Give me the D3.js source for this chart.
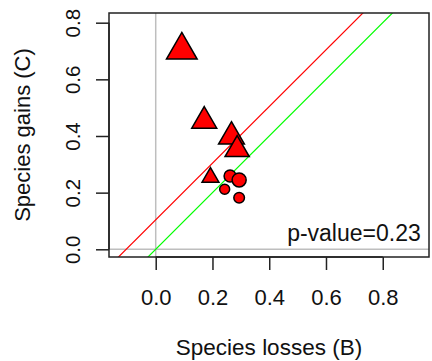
<!DOCTYPE html>
<html>
<head>
<meta charset="utf-8">
<script src="https://cdn.jsdelivr.net/npm/d3@7"></script>
<style>
  body { margin: 0; background: #fff; }
  svg { display: block; font-family: "Liberation Sans", Arial, sans-serif; }
</style>
</head>
<body>
<div id="chart"></div>
<script>
// values
const losses = [0.262, 0.294, 0.243, 0.294, 0.092, 0.171, 0.267, 0.287, 0.193];
const gains  = [0.259, 0.245, 0.212, 0.182, 0.703, 0.453, 0.398, 0.352, 0.254];
const shapes = ['circle', 'circle', 'circle', 'circle', 'triangle', 'triangle', 'triangle', 'triangle', 'triangle'];
const cexs   = [1.33, 1.56, 1.11, 1.18, 2.53, 2.06, 2.13, 2.0, 1.39];
const xTicks = [0, 0.2, 0.4, 0.6, 0.8];
const yTicks = [0, 0.2, 0.4, 0.6, 0.8];
const refLines = [
  { intercept: 0.104, slope: 1, color: '#ff0000' },
  { intercept: 0, slope: 1, color: '#00ff00' }
];
const pLabel = 'p-value=0.23';

const width = 432, height = 361;
const margin = { top: 13, right: 3, bottom: 104, left: 109 };

const svg = d3.select('#chart').append('svg')
  .attr('width', width)
  .attr('height', height);

const x = d3.scaleLinear().domain([-0.1646, 0.963]).range([margin.left, width - margin.right]);
const y = d3.scaleLinear().domain([-0.0272, 0.8342]).range([height - margin.bottom, margin.top]);

svg.append('defs').append('clipPath').attr('id', 'plot-clip')
  .append('rect')
  .attr('x', margin.left).attr('y', margin.top)
  .attr('width', width - margin.left - margin.right)
  .attr('height', height - margin.top - margin.bottom);

const plot = svg.append('g').attr('clip-path', 'url(#plot-clip)');

// grey zero lines
plot.append('line')
  .attr('x1', x(0)).attr('x2', x(0))
  .attr('y1', margin.top).attr('y2', height - margin.bottom)
  .attr('stroke', '#bebebe').attr('stroke-width', 1.5);
plot.append('line')
  .attr('x1', margin.left).attr('x2', width - margin.right)
  .attr('y1', y(0)).attr('y2', y(0))
  .attr('stroke', '#bebebe').attr('stroke-width', 1.5);

// reference lines
const [x0, x1] = x.domain();
plot.selectAll('.ref')
  .data(refLines)
  .join('line')
  .attr('class', 'ref')
  .attr('x1', x(x0)).attr('y1', d => y(d.intercept + d.slope * x0))
  .attr('x2', x(x1)).attr('y2', d => y(d.intercept + d.slope * x1))
  .attr('stroke', d => d.color)
  .attr('stroke-width', 1.2);

// points
const unit = 4.5;
const TRC0 = Math.sqrt(4 * Math.PI / (3 * Math.sqrt(3)));
const points = losses.map((v, i) => ({ x: v, y: gains[i], shape: shapes[i], cex: cexs[i] }));

plot.selectAll('.pt')
  .data(points)
  .join('path')
  .attr('class', 'pt')
  .attr('transform', d => `translate(${x(d.x)},${y(d.y)})`)
  .attr('d', d => {
    const s = unit * d.cex;
    if (d.shape === 'circle') {
      return d3.arc()({ innerRadius: 0, outerRadius: s, startAngle: 0, endAngle: 2 * Math.PI });
    }
    const r = TRC0 * s;
    const xc = r * Math.sqrt(3) / 2;
    return `M0,${-r}L${xc},${r / 2}L${-xc},${r / 2}Z`;
  })
  .attr('fill', '#ff0000')
  .attr('stroke', '#000')
  .attr('stroke-width', 1.5)
  .attr('stroke-linejoin', 'miter');

// p-value text
svg.append('text')
  .attr('x', x(0.934))
  .attr('y', y(0.028))
  .attr('text-anchor', 'end')
  .attr('font-size', 23)
  .attr('fill', '#111')
  .text(pLabel);

// box
svg.append('rect')
  .attr('x', margin.left).attr('y', margin.top)
  .attr('width', width - margin.left - margin.right)
  .attr('height', height - margin.top - margin.bottom)
  .attr('fill', 'none')
  .attr('stroke', '#222')
  .attr('stroke-width', 1.5);

// x axis
const xAxis = svg.append('g')
  .attr('transform', `translate(0,${height - margin.bottom})`)
  .call(d3.axisBottom(x).tickValues(xTicks).tickSize(13).tickPadding(19).tickFormat(d3.format('.1f')));
xAxis.select('.domain')
  .attr('d', `M${x(xTicks[0])},0H${x(xTicks[xTicks.length - 1])}`)
  .attr('stroke', '#222').attr('stroke-width', 1.5);
xAxis.selectAll('.tick line').attr('stroke', '#222').attr('stroke-width', 1.5);
xAxis.selectAll('.tick text')
  .attr('font-size', 22)
  .attr('font-family', '"Liberation Sans", Arial, sans-serif')
  .attr('fill', '#111');

// y axis
const yAxis = svg.append('g')
  .attr('transform', `translate(${margin.left},0)`)
  .call(d3.axisLeft(y).tickValues(yTicks).tickSize(13).tickFormat(d3.format('.1f')));
yAxis.select('.domain')
  .attr('d', `M0,${y(yTicks[0])}V${y(yTicks[yTicks.length - 1])}`)
  .attr('stroke', '#222').attr('stroke-width', 1.5);
yAxis.selectAll('.tick line').attr('stroke', '#222').attr('stroke-width', 1.5);
yAxis.selectAll('.tick text')
  .attr('x', null).attr('dy', null)
  .attr('transform', 'translate(-29,0) rotate(-90)')
  .attr('text-anchor', 'middle')
  .attr('font-size', 20.5)
  .attr('font-family', '"Liberation Sans", Arial, sans-serif')
  .attr('fill', '#111');

// axis titles
svg.append('text')
  .attr('x', (margin.left + width - margin.right) / 2)
  .attr('y', 355)
  .attr('text-anchor', 'middle')
  .attr('font-size', 22.5)
  .attr('fill', '#111')
  .text('Species losses (B)');

svg.append('text')
  .attr('transform', `translate(30,${(margin.top + height - margin.bottom) / 2}) rotate(-90)`)
  .attr('text-anchor', 'middle')
  .attr('font-size', 22)
  .attr('fill', '#111')
  .text('Species gains (C)');
</script>
</body>
</html>
